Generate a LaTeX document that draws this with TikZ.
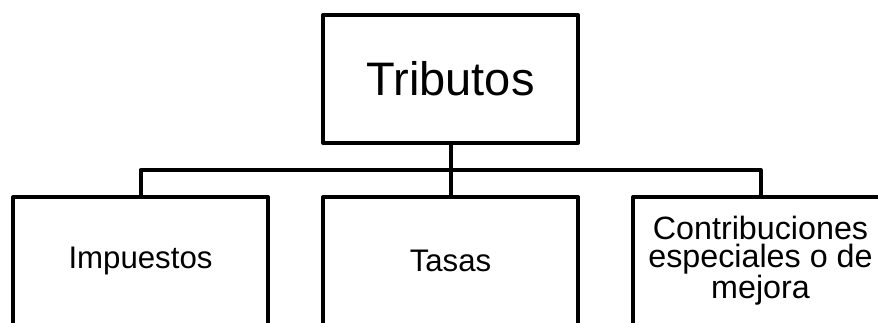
\documentclass[tikz,border=0pt]{standalone}
\usepackage{fontspec}
\setmainfont{Liberation Sans}
\begin{document}
\begin{tikzpicture}[x=0.75pt,y=-0.75pt,
  box/.style={draw=black,line width=3pt,line join=round,fill=white,
    minimum width=191.25pt,minimum height=96pt,inner sep=0pt,align=center},
  link/.style={draw=black,line width=3pt,line join=round}]
  \useasboundingbox (0,0) rectangle (878,322);
  \clip (0,0) rectangle (878,322);
  % top node and the three children
  \node[box,font=\fontsize{35.25}{40}\selectfont] (trib) at (450.5,79) {Tributos};
  \node[box,font=\fontsize{23.4}{26}\selectfont] (imp) at (140.5,261) {Impuestos};
  \node[box,font=\fontsize{23.4}{26}\selectfont] (tas) at (450.5,261) {Tasas};
  \node[box,font=\fontsize{24.2}{20.6}\selectfont] (con) at (760.5,261)
    {Contribuciones\\especiales o de\\mejora};
  % connectors
  \coordinate (hub) at (450.5,170);
  \draw[link] (trib.south) -- (tas.north);
  \draw[link] (imp.north) |- (hub) -| (con.north);
\end{tikzpicture}
\end{document}
